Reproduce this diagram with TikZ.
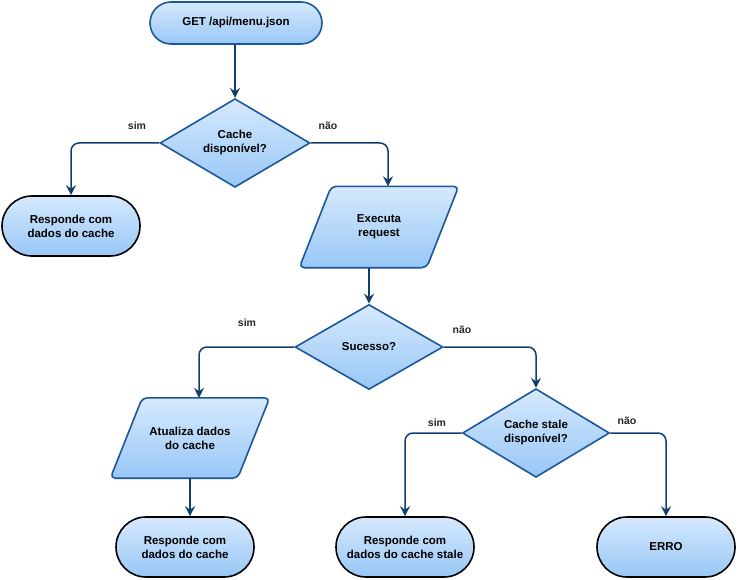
\documentclass[tikz,border=0pt]{standalone}
\usepackage{fontspec}
\setmainfont{Liberation Sans}
\usetikzlibrary{shapes.geometric,shapes.misc,arrows.meta,backgrounds}
\definecolor{bordblue}{RGB}{28,88,152}
\definecolor{arrblue}{RGB}{16,62,112}
\definecolor{filltop}{RGB}{214,233,253}
\definecolor{fillbot}{RGB}{152,199,246}
\tikzset{
  base/.style={top color=filltop, bottom color=fillbot, line width=1.6pt, align=center,
    font=\fontsize{11.5}{14}\selectfont\bfseries, inner sep=0pt},
  term/.style={base, rounded rectangle, draw=black, minimum width=138pt, minimum height=60pt},
  startterm/.style={base, rounded rectangle, draw=bordblue, minimum width=172pt, minimum height=42pt},
  decis/.style={base, diamond, draw=bordblue},
  iotext/.style={align=center, font=\fontsize{11.5}{14}\selectfont\bfseries, inner sep=0pt,
    minimum width=127pt},
  ioshape/.style={top color=filltop, bottom color=fillbot, line width=1.6pt, draw=bordblue,
    rounded corners=5pt},
  conn/.style={draw=arrblue, line width=1.5pt, rounded corners=8pt,
    -{Stealth[length=10pt,width=10pt,inset=3.5pt]}},
  lbl/.style={font=\fontsize{10.5}{12}\selectfont\bfseries, inner sep=0pt, text=black!85}
}
\begin{document}
\begin{tikzpicture}[x=1pt,y=-1pt]
\useasboundingbox (0,0) rectangle (738,580);
\node[startterm] (start) at (236,23) {GET /api/menu.json};
\node[decis, minimum width=150pt, minimum height=86pt] (d1) at (235,143) {Cache\\disponível?};
\node[term] (r1) at (71,226) {Responde com\\dados do cache};
\node[iotext, minimum height=81pt] (p1) at (379,227) {Executa\\request};
\node[decis, minimum width=148pt, minimum height=85pt] (d2) at (369,347) {Sucesso?};
\node[iotext, minimum height=80pt] (p2) at (190,438) {Atualiza dados\\do cache};
\node[term] (r2) at (185,547) {Responde com\\dados do cache};
\node[decis, minimum width=147pt, minimum height=86pt] (d3) at (536,433) {Cache stale\\disponível?};
\node[term] (r3) at (405,547) {Responde com\\dados do cache stale};
\node[term] (r4) at (666,547) {ERRO};

\begin{scope}[on background layer]
\path[ioshape] ([xshift=-16pt]p1.south west) -- ([xshift=16pt]p1.north west)
  -- ([xshift=16pt]p1.north east) -- ([xshift=-16pt]p1.south east) -- cycle;
\path[ioshape] ([xshift=-16pt]p2.south west) -- ([xshift=16pt]p2.north west)
  -- ([xshift=16pt]p2.north east) -- ([xshift=-16pt]p2.south east) -- cycle;
\end{scope}

\node[lbl] (l1) at (137,126) {sim};
\node[lbl] (l2) at (328,126) {não};
\node[lbl] (l3) at (247,323) {sim};
\node[lbl] (l4) at (462,330) {não};
\node[lbl] (l5) at (437,423) {sim};
\node[lbl] (l6) at (627,421) {não};

\draw[conn] (d1.north |- start.south) -- (d1.north);
\draw[conn] (d1.west) -| (r1.north);
\draw[conn] (d1.east) -| ([xshift=9pt]p1.north);
\draw[conn] (d2.north |- p1.south) -- (d2.north);
\draw[conn] (d2.west) -| ([xshift=9pt]p2.north);
\draw[conn] (p2.south) -- (p2.south |- r2.north);
\draw[conn] (d2.east) -| (d3.north);
\draw[conn] (d3.west) -| (r3.north);
\draw[conn] (d3.east) -| (r4.north);
\end{tikzpicture}
\end{document}
